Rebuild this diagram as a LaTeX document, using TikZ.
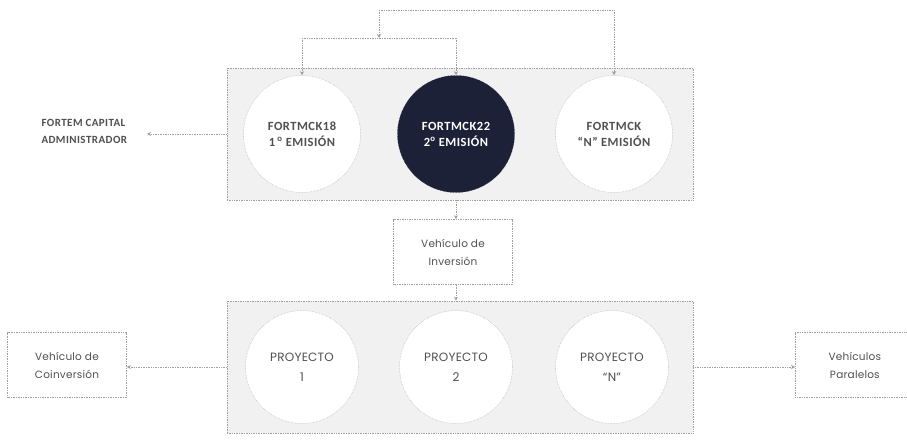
\documentclass[tikz,border=0pt]{standalone}
\usepackage{fontspec}
\usetikzlibrary{arrows.meta}
\newfontfamily\capsfont[LetterSpace=4]{Carlito}
\newfontfamily\geofont[LetterSpace=2]{Poppins}
\definecolor{navy}{HTML}{1D2137}
\definecolor{panel}{HTML}{F1F1F1}
\definecolor{ink}{HTML}{505050}
\tikzset{
  dotline/.style={densely dotted, line width=0.7pt, draw=gray!75},
  link/.style={dotline, -{Stealth[length=4pt,width=4pt]}},
  panelbox/.style={dotline, fill=panel, minimum width=466pt, minimum height=132pt},
  fundo/.style={circle, draw=gray!60, densely dotted, line width=0.5pt, fill=white,
    minimum size=117pt, align=center, text=ink, font=\capsfont\bfseries\fontsize{12.5}{16}\selectfont},
  proyecto/.style={fundo, minimum size=113pt, font=\geofont\fontsize{12}{20}\selectfont},
  vehiculo/.style={dotline, fill=white, align=center, text=ink, minimum width=119pt,
    minimum height=65pt, font=\geofont\fontsize{10.5}{18}\selectfont}
}
\begin{document}
\begin{tikzpicture}[x=1pt,y=-1pt]
    \useasboundingbox[fill=white] (0,0) rectangle (907,439);
    % Fondos (emisiones)
    \node[panelbox] (fondos) at (460,134) {};
    \node[fundo] (c18) at (302,134) {FORTMCK18\\1\,\textsuperscript{o} EMISIÓN};
    \node[fundo, fill=navy, draw=navy, text=white] (c22) at (456,134) {FORTMCK22\\2\textsuperscript{o} EMISIÓN};
    \node[fundo] (cN) at (614,134) {FORTMCK\\“N” EMISIÓN};
    \node[anchor=west, align=left, text=ink, font=\capsfont\bfseries\fontsize{11}{17}\selectfont] (admin) at (38,131) {FORTEM CAPITAL\\ADMINISTRADOR};
    % Vehiculos
    \node[vehiculo] (inversion) at (453,252) {Vehículo de\\Inversión};
    \node[panelbox] (proyectos) at (460,367) {};
    \node[proyecto] (p1) at (302,367) {PROYECTO\\1};
    \node[proyecto] (p2) at (456,367) {PROYECTO\\2};
    \node[proyecto] (pN) at (612,367) {PROYECTO\\“N”};
    \node[vehiculo] (coinversion) at (67,365) {Vehículo de\\Coinversión};
    \node[vehiculo, anchor=west] (paralelos) at (795,365) {Vehículos\\Paralelos};
    % Conexiones superiores
    \coordinate (topL) at (379,10);
    \coordinate (topR) at (614,10);
    \coordinate (midL) at (302,38);
    \coordinate (midR) at (456,38);
    \coordinate (adminArr) at (147,134);
    \draw[dotline] (topL) -- (topR);
    \draw[link] (topR) -- (cN.north);
    \draw[link] (topL) -- (topL |- midL);
    \draw[dotline] (midL) -- (midR);
    \draw[link] (midL) -- (c18.north);
    \draw[link] (midR) -- (c22.north);
    \draw[link] (fondos.west |- c18) -- (adminArr);
    % Conexiones inferiores
    \draw[link] (fondos.south -| c22) -- (inversion.north -| c22);
    \draw[link] (inversion.south -| c22) -- (proyectos.north -| c22);
    \draw[link] (proyectos.west |- p1) -- (coinversion.east |- p1);
    \draw[link] (proyectos.east |- pN) -- (paralelos.west |- pN);
\end{tikzpicture}
\end{document}
